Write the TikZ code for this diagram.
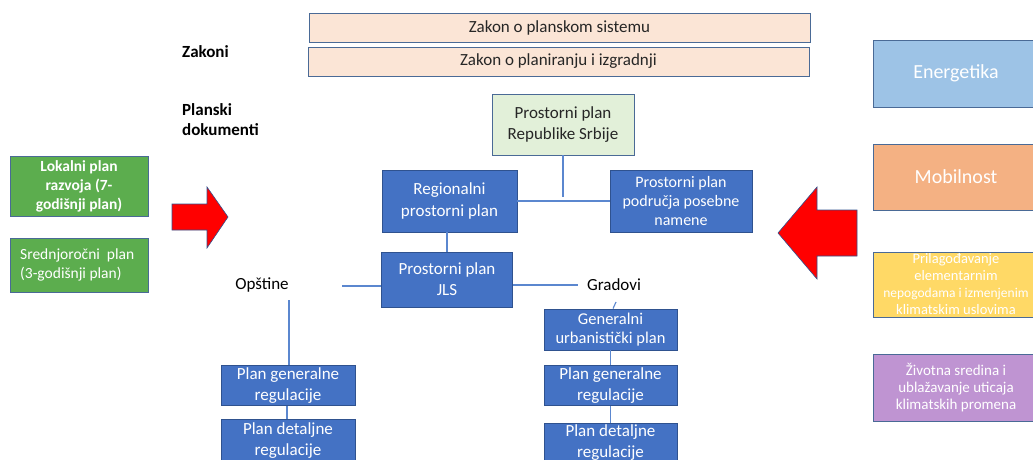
\documentclass[tikz,border=0pt]{standalone}
\usepackage{fontspec}
\setmainfont{Carlito}
\begin{document}
\begin{tikzpicture}[x=1pt,y=-1pt,
  base/.style={draw=bordc, line width=0.8pt, rectangle, inner sep=0pt, align=center},
  law/.style={base, fill=peach, text=txt, minimum width=501pt, minimum height=29pt, font=\fontsize{17}{21}\selectfont},
  bluebox/.style={base, fill=boxblue, draw=bluedark, text=white, font=\fontsize{17}{21}\selectfont},
  greenbox/.style={base, fill=grn, draw=bordc, text=white, minimum width=138pt, font=\fontsize{15.5}{19}\selectfont},
  sidebox/.style={base, text=white, minimum width=166pt},
  lbl/.style={inner sep=0pt, font=\fontsize{17}{20}\selectfont, text=black},
  conn/.style={draw=linec, line width=1.1pt},
  bigarrow/.style={fill=red, draw=bluedark, line width=0.6pt}
]
\definecolor{bordc}{HTML}{4A6A96}
\definecolor{peach}{HTML}{FBE5D6}
\definecolor{txt}{HTML}{262626}
\definecolor{boxblue}{HTML}{4472C4}
\definecolor{bluedark}{HTML}{2F528F}
\definecolor{lgreen}{HTML}{E2F0D9}
\definecolor{grn}{HTML}{5CAD4E}
\definecolor{linec}{HTML}{5B87CF}
\definecolor{energ}{HTML}{9DC3E6}
\definecolor{mobil}{HTML}{F4B183}
\definecolor{prilag}{HTML}{FFD966}
\definecolor{zivot}{HTML}{BF94D2}

\useasboundingbox (0,0) rectangle (1033,460);
\clip (0,0) rectangle (1033,460);

% laws
\node[law] (zps) at (559.5,27.5) {Zakon o planskom sistemu};
\node[law] (zpi) at (558.5,61.5) {Zakon o planiranju i izgradnji};
\node[lbl, anchor=west, font=\fontsize{17}{20}\selectfont\bfseries] (zakoni) at (182,52) {Zakoni};
\node[lbl, anchor=west, align=left, font=\fontsize{17}{20}\selectfont\bfseries] (pd) at (182,120) {Planski\\dokumenti};

% planning documents
\node[base, fill=lgreen, text=txt, minimum width=142pt, minimum height=61pt, font=\fontsize{17}{21}\selectfont] (pprs) at (563,124.5) {Prostorni plan\\Republike Srbije};
\node[bluebox, minimum width=135pt, minimum height=62pt, font=\fontsize{17}{22}\selectfont] (reg) at (449.5,201) {Regionalni\\prostorni plan};
\node[bluebox, minimum width=142pt, minimum height=62pt, font=\fontsize{16}{19}\selectfont] (pos) at (681,201) {Prostorni plan\\područja posebne\\namene};
\node[bluebox, minimum width=131pt, minimum height=55pt] (jls) at (447,279.5) {Prostorni plan\\JLS};
\node[lbl] (op) at (262,285) {Opštine};
\node[lbl] (gr) at (614,285) {Gradovi};

\node[bluebox, minimum width=134pt, minimum height=40pt] (lpgr) at (288,385.5) {Plan generalne\\regulacije};
\node[bluebox, minimum width=134pt, minimum height=44pt] (lpdr) at (288,441) {Plan detaljne\\regulacije};

\node[bluebox, minimum width=133pt, minimum height=41pt, font=\fontsize{16.5}{19}\selectfont] (gup) at (610.5,329.5) {Generalni\\urbanistički plan};
\node[bluebox, minimum width=133pt, minimum height=40pt] (rpgr) at (610.5,385.5) {Plan generalne\\regulacije};
\node[bluebox, minimum width=133pt, minimum height=40pt] (rpdr) at (610.5,443) {Plan detaljne\\regulacije};

% connectors
\coordinate (pe) at (563,197);
\draw[conn] (pprs.south) -- (pe);
\draw[conn] (reg.east) -- (pos.west);
\draw[conn] (jls.north) -- (jls.north |- reg.south);
\coordinate (opl) at (342,286);
\draw[conn] (jls.west |- opl) -- (opl);
\coordinate (grl) at (578,285);
\draw[conn] (jls.east |- grl) -- (grl);
\coordinate (opv) at (289,300);
\draw[conn] (opv) -- (opv |- lpgr.north);
\draw[conn] (lpgr.south -| 287,0) -- (lpdr.north -| 287,0);
\coordinate (gt) at (616,302);
\draw[conn] (gt) -- ([xshift=2.5pt]gup.north);
\draw[conn] (gup.south) -- (rpgr.north);
\draw[conn] (rpgr.south) -- (rpdr.north);

% left green boxes
\node[greenbox, minimum height=60pt, font=\fontsize{15.5}{19}\selectfont\bfseries] (lpr) at (79,186) {Lokalni plan\\razvoja (7-\\godišnji plan)};
\node[greenbox, minimum height=54pt, align=left] (srp) at (79,265) {Srednjoročni\ \ plan\\(3-godišnji plan)\hphantom{nn}};

% arrows
\draw[bigarrow] (172,204) -- (207,204) -- (207,187) -- (228,217) -- (207,248) -- (207,230) -- (172,230) -- cycle;
\draw[bigarrow] (857,210) -- (817,210) -- (817,187) -- (778,233) -- (817,279) -- (817,256) -- (857,256) -- cycle;

% right boxes
\node[sidebox, fill=energ, minimum height=67pt, font=\fontsize{20}{24}\selectfont] (en) at (956,73.5) {Energetika};
\node[sidebox, fill=mobil, minimum height=66pt, font=\fontsize{20}{24}\selectfont] (mob) at (956,177) {Mobilnost};
\node[sidebox, fill=prilag, minimum height=65pt, font=\fontsize{14.5}{17}\selectfont] (pri) at (956,284.5) {Prilagođavanje\\elementarnim\\{\fontsize{13.5}{17}\selectfont nepogodama i izmenjenim}\\klimatskim uslovima};
\node[sidebox, fill=zivot, minimum height=67pt, font=\fontsize{15}{17}\selectfont] (ziv) at (956,387.5) {Životna sredina i\\ublažavanje uticaja\\klimatskih promena};
\end{tikzpicture}
\end{document}
